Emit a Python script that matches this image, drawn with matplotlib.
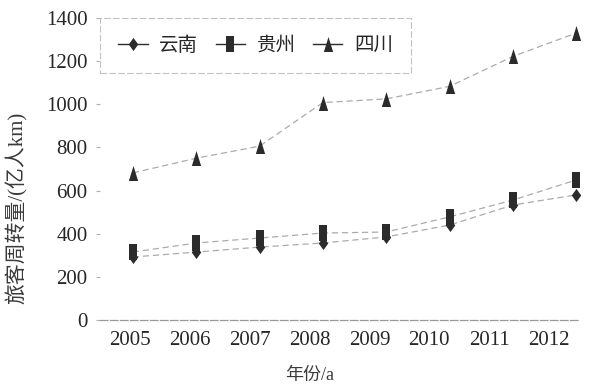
import numpy as np
import matplotlib
matplotlib.use("Agg")
import matplotlib.pyplot as plt
from matplotlib.lines import Line2D

years = [2005, 2006, 2007, 2008, 2009, 2010, 2011, 2012]
yunnan = [292, 315, 338, 357, 385, 440, 533, 580]
guizhou = [315, 357, 380, 403, 408, 478, 556, 649]
sichuan = [682, 750, 806, 1008, 1025, 1083, 1222, 1330]
series_names = ["云南", "贵州", "四川"]
y_ticks = [0, 200, 400, 600, 800, 1000, 1200, 1400]

SERIF = ["Liberation Serif", "Noto Sans CJK SC"]
TXT = "#262626"
MK = "#2b2b2b"
LN = "#ababab"

# tall, narrow marker shapes
diamond = [(0, -1), (0.72, 0), (0, 1), (-0.72, 0), (0, -1)]
rect = [(-0.58, -1), (0.58, -1), (0.58, 1), (-0.58, 1), (-0.58, -1)]
tri = [(-0.62, -1), (0.62, -1), (0, 1), (-0.62, -1)]
markers = [diamond, rect, tri]
msizes = [9.5, 11.0, 10.8]

fig = plt.figure(figsize=(6.13, 3.87), dpi=100)
ax = fig.add_axes([100 / 613, 1 - 320 / 387, 480 / 613, 302 / 387])

for vals, m, ms in zip([yunnan, guizhou, sichuan], markers, msizes):
    ax.plot(years, vals, color=LN, lw=0.9, ls=(0, (5, 3)), zorder=2)
    ax.plot(years, vals, ls="none", marker=m, ms=ms, color=MK,
            markeredgewidth=0, zorder=3)

ax.set_xlim(2004.48, 2012.06)
ax.set_ylim(0, 1400)

for s in ["top", "right", "left"]:
    ax.spines[s].set_visible(False)
ax.spines["bottom"].set_color("#9a9a9a")
ax.spines["bottom"].set_linestyle((0, (6, 2)))
ax.spines["bottom"].set_linewidth(0.9)

ax.set_yticks(y_ticks)
ax.set_yticklabels([str(v) for v in y_ticks], family=SERIF, fontsize=15, color=TXT)
ax.tick_params(axis="y", length=3, width=0.8, color="#b0b0b0", pad=6)

# year labels sit on a slightly narrower spacing than the points
label_pos = [years[0] - 0.05 + (y - years[0]) * 0.946 for y in years]
ax.set_xticks(label_pos)
ax.set_xticklabels([str(y) for y in years], family=SERIF, fontsize=15, color=TXT)
ax.tick_params(axis="x", length=0, pad=8)

ax.set_ylabel("旅客周转量/(亿人km)", family=SERIF, fontsize=15, color="#3a3a3a")
ax.yaxis.set_label_coords(-0.15, 0.37)
ax.set_xlabel("年份/a", family=SERIF, fontsize=13, color="#3a3a3a")
ax.xaxis.set_label_coords(0.4375, -0.155)

handles = [Line2D([0], [0], color=MK, lw=1.0, marker=m, ms=ms, markeredgewidth=0)
           for m, ms in zip(markers, msizes)]
leg = ax.legend(handles, series_names, loc="upper left", bbox_to_anchor=(0, 1.0),
                ncol=3, frameon=True, fancybox=False, borderaxespad=0,
                prop={"family": SERIF, "size": 14}, handlelength=1.5,
                handletextpad=0.6, columnspacing=0.9, borderpad=0.95,
                labelcolor=TXT)
fr = leg.get_frame()
fr.set_edgecolor("#b5b5b5")
fr.set_linestyle((0, (6, 2)))
fr.set_linewidth(0.8)

fig.savefig("out.png", dpi=100, facecolor="white")
